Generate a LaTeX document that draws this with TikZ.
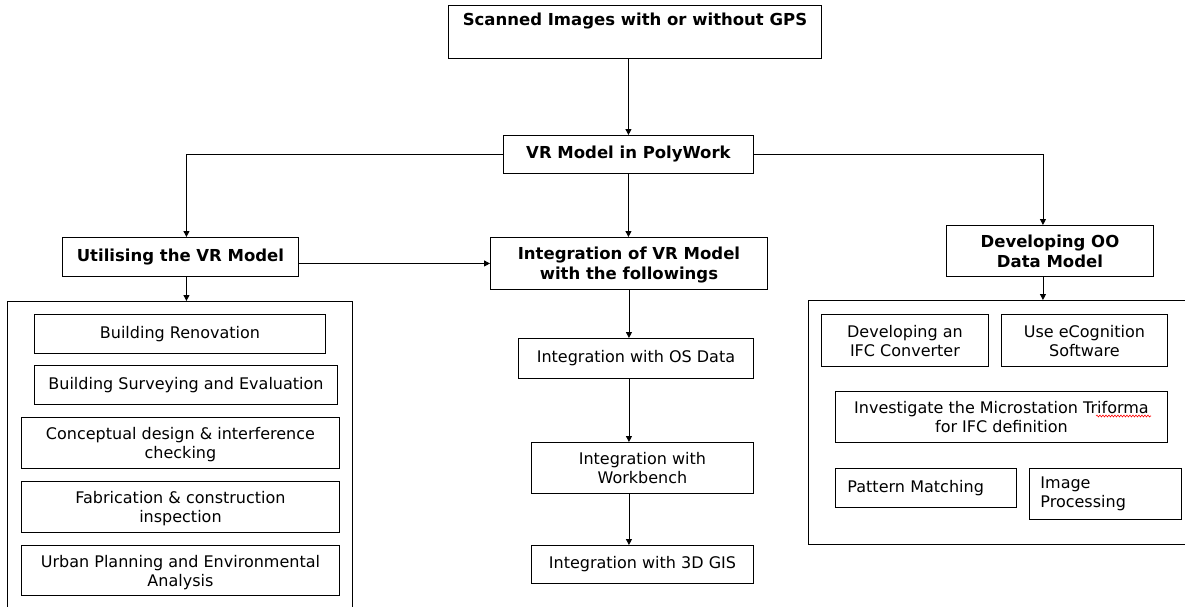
\documentclass[tikz,border=0pt]{standalone}
\usepackage{fontspec}
\setmainfont{DejaVu Sans}
\usetikzlibrary{arrows.meta,decorations.pathmorphing}
\begin{document}
\begin{tikzpicture}[x=1pt,y=-1pt,
  bx/.style={draw, line width=0.9pt, inner sep=0pt, anchor=north west, align=center,
    font=\fontsize{16}{19}\selectfont},
  hd/.style={bx, font=\fontsize{16.5}{20}\selectfont\bfseries},
  two/.style={text depth=-1.5pt},
  ct/.style={draw, line width=0.9pt, inner sep=0pt, anchor=north west},
  arr/.style={line width=0.9pt, -{Triangle[length=6pt,width=6pt]}},
  spell/.style={red, line width=0.6pt, decorate, decoration={snake, amplitude=0.9pt, segment length=3pt}},
]
\useasboundingbox (0,0) rectangle (1185,606);
\clip (0,0) rectangle (1185,606);

% top level
\node[hd, minimum width=373pt, minimum height=53pt] (top) at (448,5) {Scanned Images with or without GPS\\\strut};
\node[hd, minimum width=250pt, minimum height=38pt] (vr) at (503,135) {VR Model in PolyWork};
\node[hd, minimum width=236pt, minimum height=39pt] (util) at (62,237) {Utilising the VR Model};
\node[hd, two, minimum width=277pt, minimum height=52pt] (integ) at (490,237) {Integration of VR Model\\with the followings};
\node[hd, two, minimum width=207pt, minimum height=51pt] (oo) at (946,225) {Developing OO\\Data Model};

% containers
\node[ct, minimum width=345pt, minimum height=320pt] (leftC) at (7,301) {};
\node[ct, minimum width=400pt, minimum height=244pt] (rightC) at (808,300) {};

% left items
\node[bx, minimum width=291pt, minimum height=39pt] (br) at (34,314) {Building Renovation};
\node[bx, minimum width=303pt, minimum height=39pt] (bs) at (34,365) {Building Surveying and Evaluation};
\node[bx, two, minimum width=318pt, minimum height=51pt] (cd) at (21,417) {Conceptual design \& interference\\checking};
\node[bx, two, minimum width=318pt, minimum height=51pt] (fc) at (21,481) {Fabrication \& construction\\inspection};
\node[bx, two, minimum width=318pt, minimum height=50pt] (up) at (21,545) {Urban Planning and Environmental\\Analysis};

% middle items
\node[bx, minimum width=235pt, minimum height=40pt] (os) at (518,338) {Integration with OS Data};
\node[bx, two, minimum width=222pt, minimum height=51pt] (wb) at (531,442) {Integration with\\Workbench};
\node[bx, minimum width=222pt, minimum height=38pt] (gis) at (531,545) {Integration with 3D GIS};

% right items
\node[bx, two, minimum width=167pt, minimum height=52pt] (ifc) at (821,314) {Developing an\\IFC Converter};
\node[bx, two, minimum width=166pt, minimum height=52pt] (eco) at (1001,314) {Use eCognition\\Software};
\node[bx, two, minimum width=332pt, minimum height=51pt] (inv) at (835,391) {Investigate the Microstation Triforma\\for IFC definition};
\node[bx, inner xsep=12pt, text width=157pt, align=left, minimum height=39pt] (pm) at (835,468) {Pattern Matching};
\node[bx, inner xsep=11pt, text width=130pt, align=left, minimum height=51pt] (ip) at (1029,468) {Image\\Processing};
\draw[spell] ([shift={(261pt,-25pt)}]inv.north west) -- ([shift={(316pt,-25pt)}]inv.north west);

% connectors
\draw[arr] (vr.north |- top.south) -- (vr.north);
\draw[arr] (vr.west) -| ([xshift=6pt]util.north);
\draw[arr] (vr.east) -| ([xshift=-7pt]oo.north);
\draw[arr] (vr.south) -- (vr.south |- integ.north);
\draw[arr] (util.east |- integ.west) -- (integ.west);
\draw[arr] ([xshift=6pt]util.south) -- ([xshift=6pt]util.south |- leftC.north);
\draw[arr] (integ.south) -- (integ.south |- os.north);
\draw[arr] (integ.south |- os.south) -- (integ.south |- wb.north);
\draw[arr] (integ.south |- wb.south) -- (integ.south |- gis.north);
\draw[arr] ([xshift=-7pt]oo.south) -- ([xshift=-7pt]oo.south |- rightC.north);
\end{tikzpicture}
\end{document}
